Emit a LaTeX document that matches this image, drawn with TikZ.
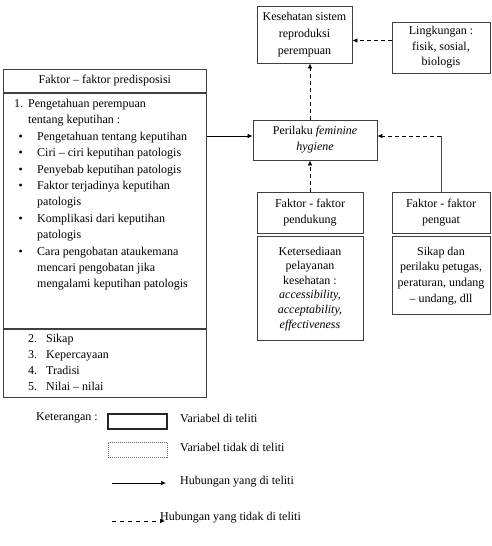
\documentclass[tikz,border=0pt]{standalone}
\usepackage{fontspec}
\setmainfont{Liberation Serif}
\usetikzlibrary{positioning,arrows,arrows.meta,calc}
\tikzset{
    block/.style = {draw=black!75, rectangle, line width=0.8pt,
        inner sep=1pt, align=center,
        font=\fontsize{12}{15.5}\selectfont},
    txt/.style = {inner sep=0pt, font=\fontsize{12}{15}\selectfont},
    arrow/.style={draw, -{Latex[length=5pt,width=4.5pt]}, line width=0.7pt},
    dasharrow/.style={draw, -{Latex[length=5pt,width=4.5pt]}, line width=0.7pt, dash pattern=on 4pt off 3pt},
    thinline/.style={draw=black!70, line width=0.7pt}
}
\newcommand{\butir}[1]{\makebox[23pt][l]{\hspace{4.5pt}\textbullet}#1}

\begin{document}
\begin{tikzpicture}[x=1pt,y=-1pt]
    \useasboundingbox (0,0) rectangle (491,546);
    % faktor predisposisi
    \node[block, anchor=north west, minimum width=203pt, minimum height=23pt] (predhead) at (3,69) {Faktor – faktor predisposisi};
    \node[block, below=0pt of predhead, minimum width=203pt, minimum height=235pt] (predbox) {};
    \node[block, below=0pt of predbox, minimum width=203pt, minimum height=68pt] (predbawah) {};
    \node[txt, anchor=north west, align=left, font=\fontsize{12}{16.4}\selectfont] (predlist) at (14,99) {%
        \makebox[14pt][l]{1.}Pengetahuan perempuan\\
        \hspace*{14pt}tentang keputihan :\\
        \butir{Pengetahuan tentang keputihan}\\
        \butir{Ciri – ciri keputihan patologis}\\
        \butir{Penyebab keputihan patologis}\\
        \butir{Faktor terjadinya keputihan}\\
        \hspace*{23pt}patologis\\
        \butir{Komplikasi dari keputihan}\\
        \hspace*{23pt}patologis\\
        \butir{Cara pengobatan ataukemana}\\
        \hspace*{23pt}mencari pengobatan jika\\
        \hspace*{23pt}mengalami keputihan patologis};
    \node[txt, anchor=north west, align=left, font=\fontsize{12}{16}\selectfont] (predlain) at (28,334) {%
        \makebox[18pt][l]{2.}Sikap\\
        \makebox[18pt][l]{3.}Kepercayaan\\
        \makebox[18pt][l]{4.}Tradisi\\
        \makebox[18pt][l]{5.}Nilai – nilai};
    % kotak kanan
    \node[block, minimum width=95pt, minimum height=57pt, font=\fontsize{12}{17}\selectfont] (kesehatan) at (304.5,34.5) {Kesehatan sistem\\reproduksi\\perempuan};
    \node[block, minimum width=98pt, minimum height=51pt] (lingkungan) at (441,47.5) {Lingkungan :\\fisik, sosial,\\biologis};
    \node[block, minimum width=124pt, minimum height=40pt, font=\fontsize{12}{16}\selectfont] (perilaku) at (315,140) {Perilaku \textit{feminine}\\\textit{hygiene}};
    \node[block, minimum width=106pt, minimum height=41pt] (pendukung) at (310,212.5) {Faktor - faktor\\pendukung};
    \node[block, below=3pt of pendukung, minimum width=106pt, minimum height=104pt, font=\fontsize{12}{14.6}\selectfont] (pendukungisi) {Ketersediaan\\pelayanan\\kesehatan :\\\textit{accessibility,}\\\textit{acceptability,}\\\textit{effectiveness}};
    \node[block, minimum width=98pt, minimum height=41pt] (penguat) at (441,212.5) {Faktor - faktor\\penguat};
    \node[block, below=3pt of penguat, minimum width=98pt, minimum height=78pt, font=\fontsize{12}{15.6}\selectfont] (penguatisi) {Sikap dan\\perilaku petugas,\\peraturan, undang\\– undang, dll};
    % hubungan
    \coordinate (masuk) at ([yshift=4pt]perilaku.west);
    \draw[arrow] (predbox.east |- masuk) -- (masuk);
    \draw[dasharrow] ([yshift=7pt]lingkungan.west) -- ([yshift=7pt]lingkungan.west -| kesehatan.east);
    \draw[dasharrow] (perilaku.north -| pendukung.north) -- (kesehatan.south -| pendukung.north);
    \draw[dasharrow] (pendukung.north) -- (perilaku.south -| pendukung.north);
    \draw[thinline] (penguat.north) -- (penguat.north |- masuk) coordinate (sudut);
    \draw[dasharrow] (sudut) -- (perilaku.east |- masuk);
    % keterangan
    \node[txt] (keterangan) at (67,418) {Keterangan :};
    \node[draw=black!85, line width=1.1pt, minimum width=59pt, minimum height=15pt, inner sep=0pt] (ketditeliti) at (137.5,421.5) {};
    \node[txt, anchor=west] (tditeliti) at (180,418) {Variabel di teliti};
    \node[draw=black!60, line width=0.8pt, dash pattern=on 1pt off 1pt, minimum width=59pt, minimum height=15pt, inner sep=0pt] (kettidak) at (137.5,449.5) {};
    \node[txt, anchor=west] (ttidak) at (180,447) {Variabel tidak di teliti};
    \coordinate (garisa) at (112,483);
    \coordinate (garisb) at (166,483);
    \draw[arrow] (garisa) -- (garisb);
    \node[txt, anchor=west] (thubungan) at (180,482) {Hubungan yang di teliti};
    \coordinate (putusa) at (112,521);
    \coordinate (putusb) at (165,521);
    \draw[dasharrow, dash pattern=on 4pt off 4pt] (putusa) -- (putusb);
    \node[txt, anchor=west] (thubtidak) at (160,518) {Hubungan yang tidak di teliti};
\end{tikzpicture}
\end{document}
